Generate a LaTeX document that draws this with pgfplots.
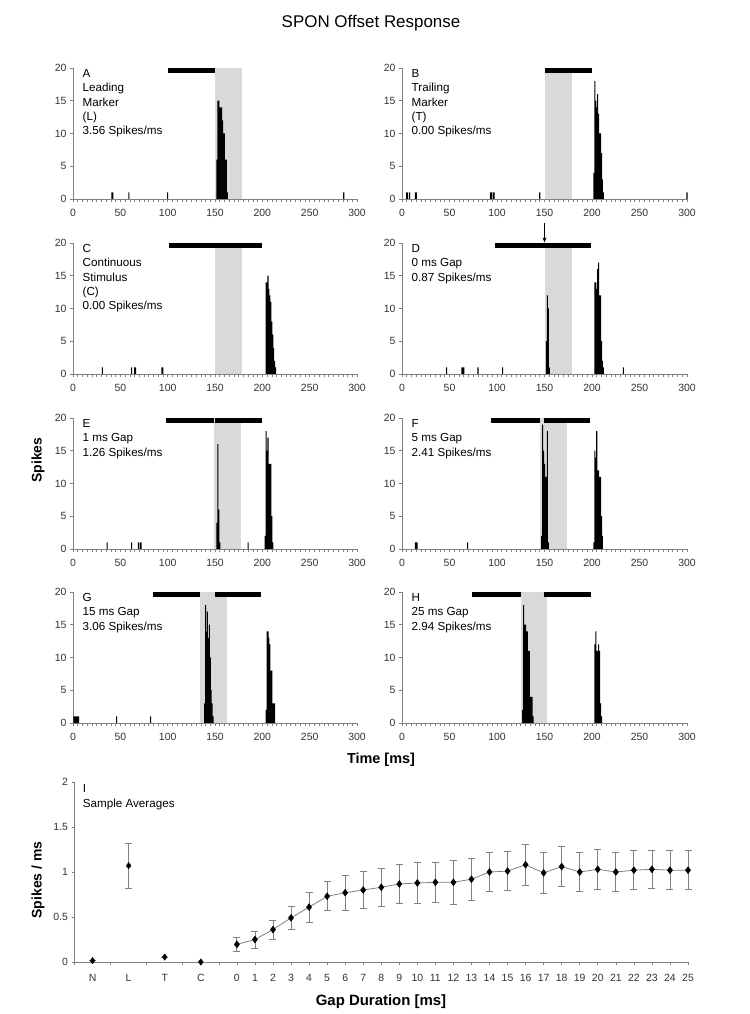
\documentclass[border=0pt]{standalone}
\usepackage{fontspec}
\setmainfont{Liberation Sans}
\usepackage{pgfplots}
\usepackage{pgfplotstable}
\pgfplotsset{compat=1.18}
\usetikzlibrary{arrows.meta}

\definecolor{axgray}{RGB}{128,128,128}
\definecolor{shade}{RGB}{217,217,217}
\definecolor{ticktext}{RGB}{50,50,50}

\pgfplotsset{
  panel/.style={
    scale only axis, width=284bp, height=131bp, anchor=south west,
    xmin=0, xmax=300, ymin=0, ymax=20,
    axis lines=left, axis line style={-, draw=axgray},
    xtick={0,50,...,300}, ytick={0,5,10,15,20},
    minor x tick num=9,
    tick align=outside, tick style={axgray, line width=0.6bp},
    major tick length=3bp, minor tick length=3bp,
    ticklabel style={font=\fontsize{10.5}{12}\selectfont, text=ticktext},
    xticklabel style={yshift=-4bp},
    /pgf/number format/assume math mode=true,
    clip=false,
  },
  spikes/.style={ybar, bar width=1.1, bar shift=0pt, fill=black, draw=none},
  stim/.style={black, line width=5bp, line cap=butt},
  gapshade/.style={fill=shade, draw=none},
}
\newcommand{\plabel}[1]{\node[anchor=north west, align=left, inner sep=0pt,
  font=\fontsize{11.7}{14.3}\selectfont] at (axis cs:10,19.8) {#1};}

% sample averages (panel I): position, mean, error
\pgfplotstableread{
x y e
-8 0.015 0
-6 1.07 0.25
-4 0.055 0
-2 0.0 0
}\ctrl
\pgfplotstableread{
x y e
0 0.196 0.075
1 0.25 0.095
2 0.36 0.105
3 0.49 0.13
4 0.61 0.165
5 0.73 0.16
6 0.77 0.195
7 0.80 0.205
8 0.83 0.215
9 0.867 0.215
10 0.878 0.23
11 0.885 0.22
12 0.885 0.24
13 0.92 0.235
14 1.00 0.22
15 1.01 0.215
16 1.08 0.23
17 0.99 0.23
18 1.06 0.225
19 1.00 0.22
20 1.03 0.225
21 1.00 0.22
22 1.02 0.215
23 1.03 0.21
24 1.02 0.215
25 1.02 0.215
}\gaps

\begin{document}
\begin{tikzpicture}
\path[use as bounding box] (0,0) rectangle (750bp,1014bp);

% ---- A ----
\begin{axis}[panel, at={(73bp,815bp)}]
  \addplot[gapshade] coordinates {(150,20) (178,20)} \closedcycle;
  \addplot[spikes] coordinates {(152,6)(153,15)(154,15)(155,14)(156,14)(157,14)(158,12)(159,10)(160,10)(161,6)(162,6)(163,1)
    (41,1)(42,1)(59,1)(100,1)(286,1)};
  \addplot[stim] coordinates {(100,19.55) (150,19.55)};
  \plabel{A\\Leading\\Marker\\(L)\\3.56 Spikes/ms}
\end{axis}

% ---- B ----
\begin{axis}[panel, width=285bp, at={(402bp,815bp)}]
  \addplot[gapshade] coordinates {(150,20) (179,20)} \closedcycle;
  \addplot[spikes] coordinates {(202,4)(203,18)(204,15)(205,14)(206,16)(207,13)(208,10)(209,10)(210,7)(211,3)(212,1)
    (5,1)(6,1)(8,1)(14,1)(15,1)(93,1)(94,1)(96,1)(97,1)(145,1)(300,1)};
  \addplot[stim] coordinates {(150,19.55) (200,19.55)};
  \plabel{B\\Trailing\\Marker\\(T)\\0.00 Spikes/ms}
\end{axis}

% ---- C ----
\begin{axis}[panel, at={(73bp,640bp)}]
  \addplot[gapshade] coordinates {(150,20) (178,20)} \closedcycle;
  \addplot[spikes] coordinates {(204,14)(205,14)(206,15)(207,13)(208,12)(209,11)(210,8)(211,6)(212,4)(213,2)(214,1)
    (31,1)(62,1)(65,1)(66,1)(94,1)(95,1)};
  \addplot[stim] coordinates {(101,19.55) (200,19.55)};
  \plabel{C\\Continuous\\Stimulus\\(C)\\0.00 Spikes/ms}
\end{axis}

% ---- D ----
\begin{axis}[panel, width=285bp, at={(402bp,640bp)}]
  \addplot[gapshade] coordinates {(150,20) (179,20)} \closedcycle;
  \addplot[spikes] coordinates {(152,5)(153,12)(154,10)(155,1)
    (203,14)(204,14)(205,13)(206,16)(207,17)(208,12)(209,12)(210,5)(211,2)(212,1)
    (47,1)(63,1)(64,1)(65,1)(80,1)(106,1)(233,1)};
  \addplot[stim] coordinates {(98,19.55) (199,19.55)};
  \addplot[black, line width=0.6bp, -{Stealth[length=5bp,width=4bp]}] coordinates {(150,23) (150,20.1)};
  \plabel{D\\0 ms Gap\\0.87 Spikes/ms}
\end{axis}

% ---- E ----
\begin{axis}[panel, at={(73bp,465bp)}]
  \addplot[gapshade] coordinates {(149,20) (177,20)} \closedcycle;
  \addplot[spikes] coordinates {(152,4)(153,16)(154,6)(155,1)
    (203,2)(204,18)(205,15)(206,17)(207,13)(208,13)(209,13)(210,5)(211,1)
    (36,1)(62,1)(69,1)(71,1)(72,1)(185,1)};
  \addplot[stim] coordinates {(98,19.55) (148.6,19.55)};
  \addplot[stim] coordinates {(150.4,19.55) (200,19.55)};
  \plabel{E\\1 ms Gap\\1.26 Spikes/ms}
\end{axis}

% ---- F ----
\begin{axis}[panel, width=285bp, at={(402bp,465bp)}]
  \addplot[gapshade] coordinates {(145,20) (174,20)} \closedcycle;
  \addplot[spikes] coordinates {(147,2)(148,19)(149,15)(150,13)(151,11)(152,11)(153,18)(154,1)
    (202,1)(203,15)(204,14)(205,18)(206,12)(207,12)(208,11)(209,11)(210,5)(211,2)
    (14,1)(15,1)(16,1)(69,1)};
  \addplot[stim] coordinates {(94,19.55) (145,19.55)};
  \addplot[stim] coordinates {(149,19.55) (198,19.55)};
  \plabel{F\\5 ms Gap\\2.41 Spikes/ms}
\end{axis}

% ---- G ----
\begin{axis}[panel, at={(73bp,291bp)}]
  \addplot[gapshade] coordinates {(134,20) (163,20)} \closedcycle;
  \addplot[spikes] coordinates {(139,3)(140,18)(141,14)(142,17)(143,13)(144,15)(145,10)(146,5)(147,3)(148,1)
    (204,2)(205,14)(206,14)(207,13)(208,12)(209,8)(210,8)(211,3)(212,3)(213,3)
    (1,1)(2,1)(3,1)(4,1)(5,1)(6,1)(46,1)(82,1)};
  \addplot[stim] coordinates {(84,19.55) (134,19.55)};
  \addplot[stim] coordinates {(150,19.55) (199,19.55)};
  \plabel{G\\15 ms Gap\\3.06 Spikes/ms}
\end{axis}

% ---- H ----
\begin{axis}[panel, width=285bp, at={(402bp,291bp)}]
  \addplot[gapshade] coordinates {(125,20) (153,20)} \closedcycle;
  \addplot[spikes] coordinates {(127,2)(128,18)(129,15)(130,15)(131,14)(132,14)(133,11)(134,11)(135,4)(136,4)(137,4)(138,1)
    (203,12)(204,14)(205,11)(206,11)(207,12)(208,11)(209,3)(210,1)};
  \addplot[stim] coordinates {(74,19.55) (125,19.55)};
  \addplot[stim] coordinates {(149,19.55) (199,19.55)};
  \plabel{H\\25 ms Gap\\2.94 Spikes/ms}
\end{axis}

% ---- I ----
\begin{axis}[
  scale only axis, width=613.5bp, height=180bp, anchor=south west,
  at={(74.5bp,52bp)},
  xmin=-9, xmax=25, ymin=0, ymax=2,
  axis lines=left, axis line style={-, draw=axgray},
  xtick={-8,-6,-4,-2,0,1,...,25},
  xticklabels={N,L,T,C,0,1,2,3,4,5,6,7,8,9,10,11,12,13,14,15,16,17,18,19,20,21,22,23,24,25},
  major x tick style={draw=none},
  minor xtick={-9,-7,-5,-3,-1,0,1,...,25},
  ytick={0,0.5,1,1.5,2},
  tick align=outside, tick style={axgray, line width=0.6bp},
  major tick length=3bp, minor tick length=3bp,
  ticklabel style={font=\fontsize{10.5}{12}\selectfont, text=ticktext},
  xticklabel style={yshift=-6bp},
  /pgf/number format/assume math mode=true,
  clip=false,
]
  \addplot[only marks, mark=diamond*, mark size=3.2bp, mark options={black, fill=black},
    error bars/.cd, y dir=both, y explicit,
    error bar style={axgray, line width=0.8bp},
    error mark options={rotate=90, axgray, mark size=3.5bp, line width=0.8bp}]
    table[x=x, y=y, y error=e] {\ctrl};
  \addplot[axgray, line width=0.8bp, mark=diamond*, mark size=3.2bp, mark options={black, fill=black},
    error bars/.cd, y dir=both, y explicit,
    error bar style={axgray, line width=0.8bp},
    error mark options={rotate=90, axgray, mark size=3.5bp, line width=0.8bp}]
    table[x=x, y=y, y error=e] {\gaps};
  \node[anchor=north west, align=left, inner sep=0pt,
    font=\fontsize{11.7}{15.5}\selectfont] at (axis cs:-8.55,1.98) {I\\Sample Averages};
\end{axis}

% titles and axis labels
\node[font=\fontsize{17}{20}\selectfont] at (371bp,991bp) {SPON Offset Response};
\node[font=\fontsize{14}{16}\selectfont\bfseries, rotate=90] at (38bp,554bp) {Spikes};
\node[font=\fontsize{14.5}{17}\selectfont\bfseries] at (381bp,254bp) {Time [ms]};
\node[font=\fontsize{14}{16}\selectfont\bfseries, rotate=90] at (38bp,134bp) {Spikes / ms};
\node[font=\fontsize{15}{17}\selectfont\bfseries] at (381bp,12bp) {Gap Duration [ms]};
\end{tikzpicture}
\end{document}
